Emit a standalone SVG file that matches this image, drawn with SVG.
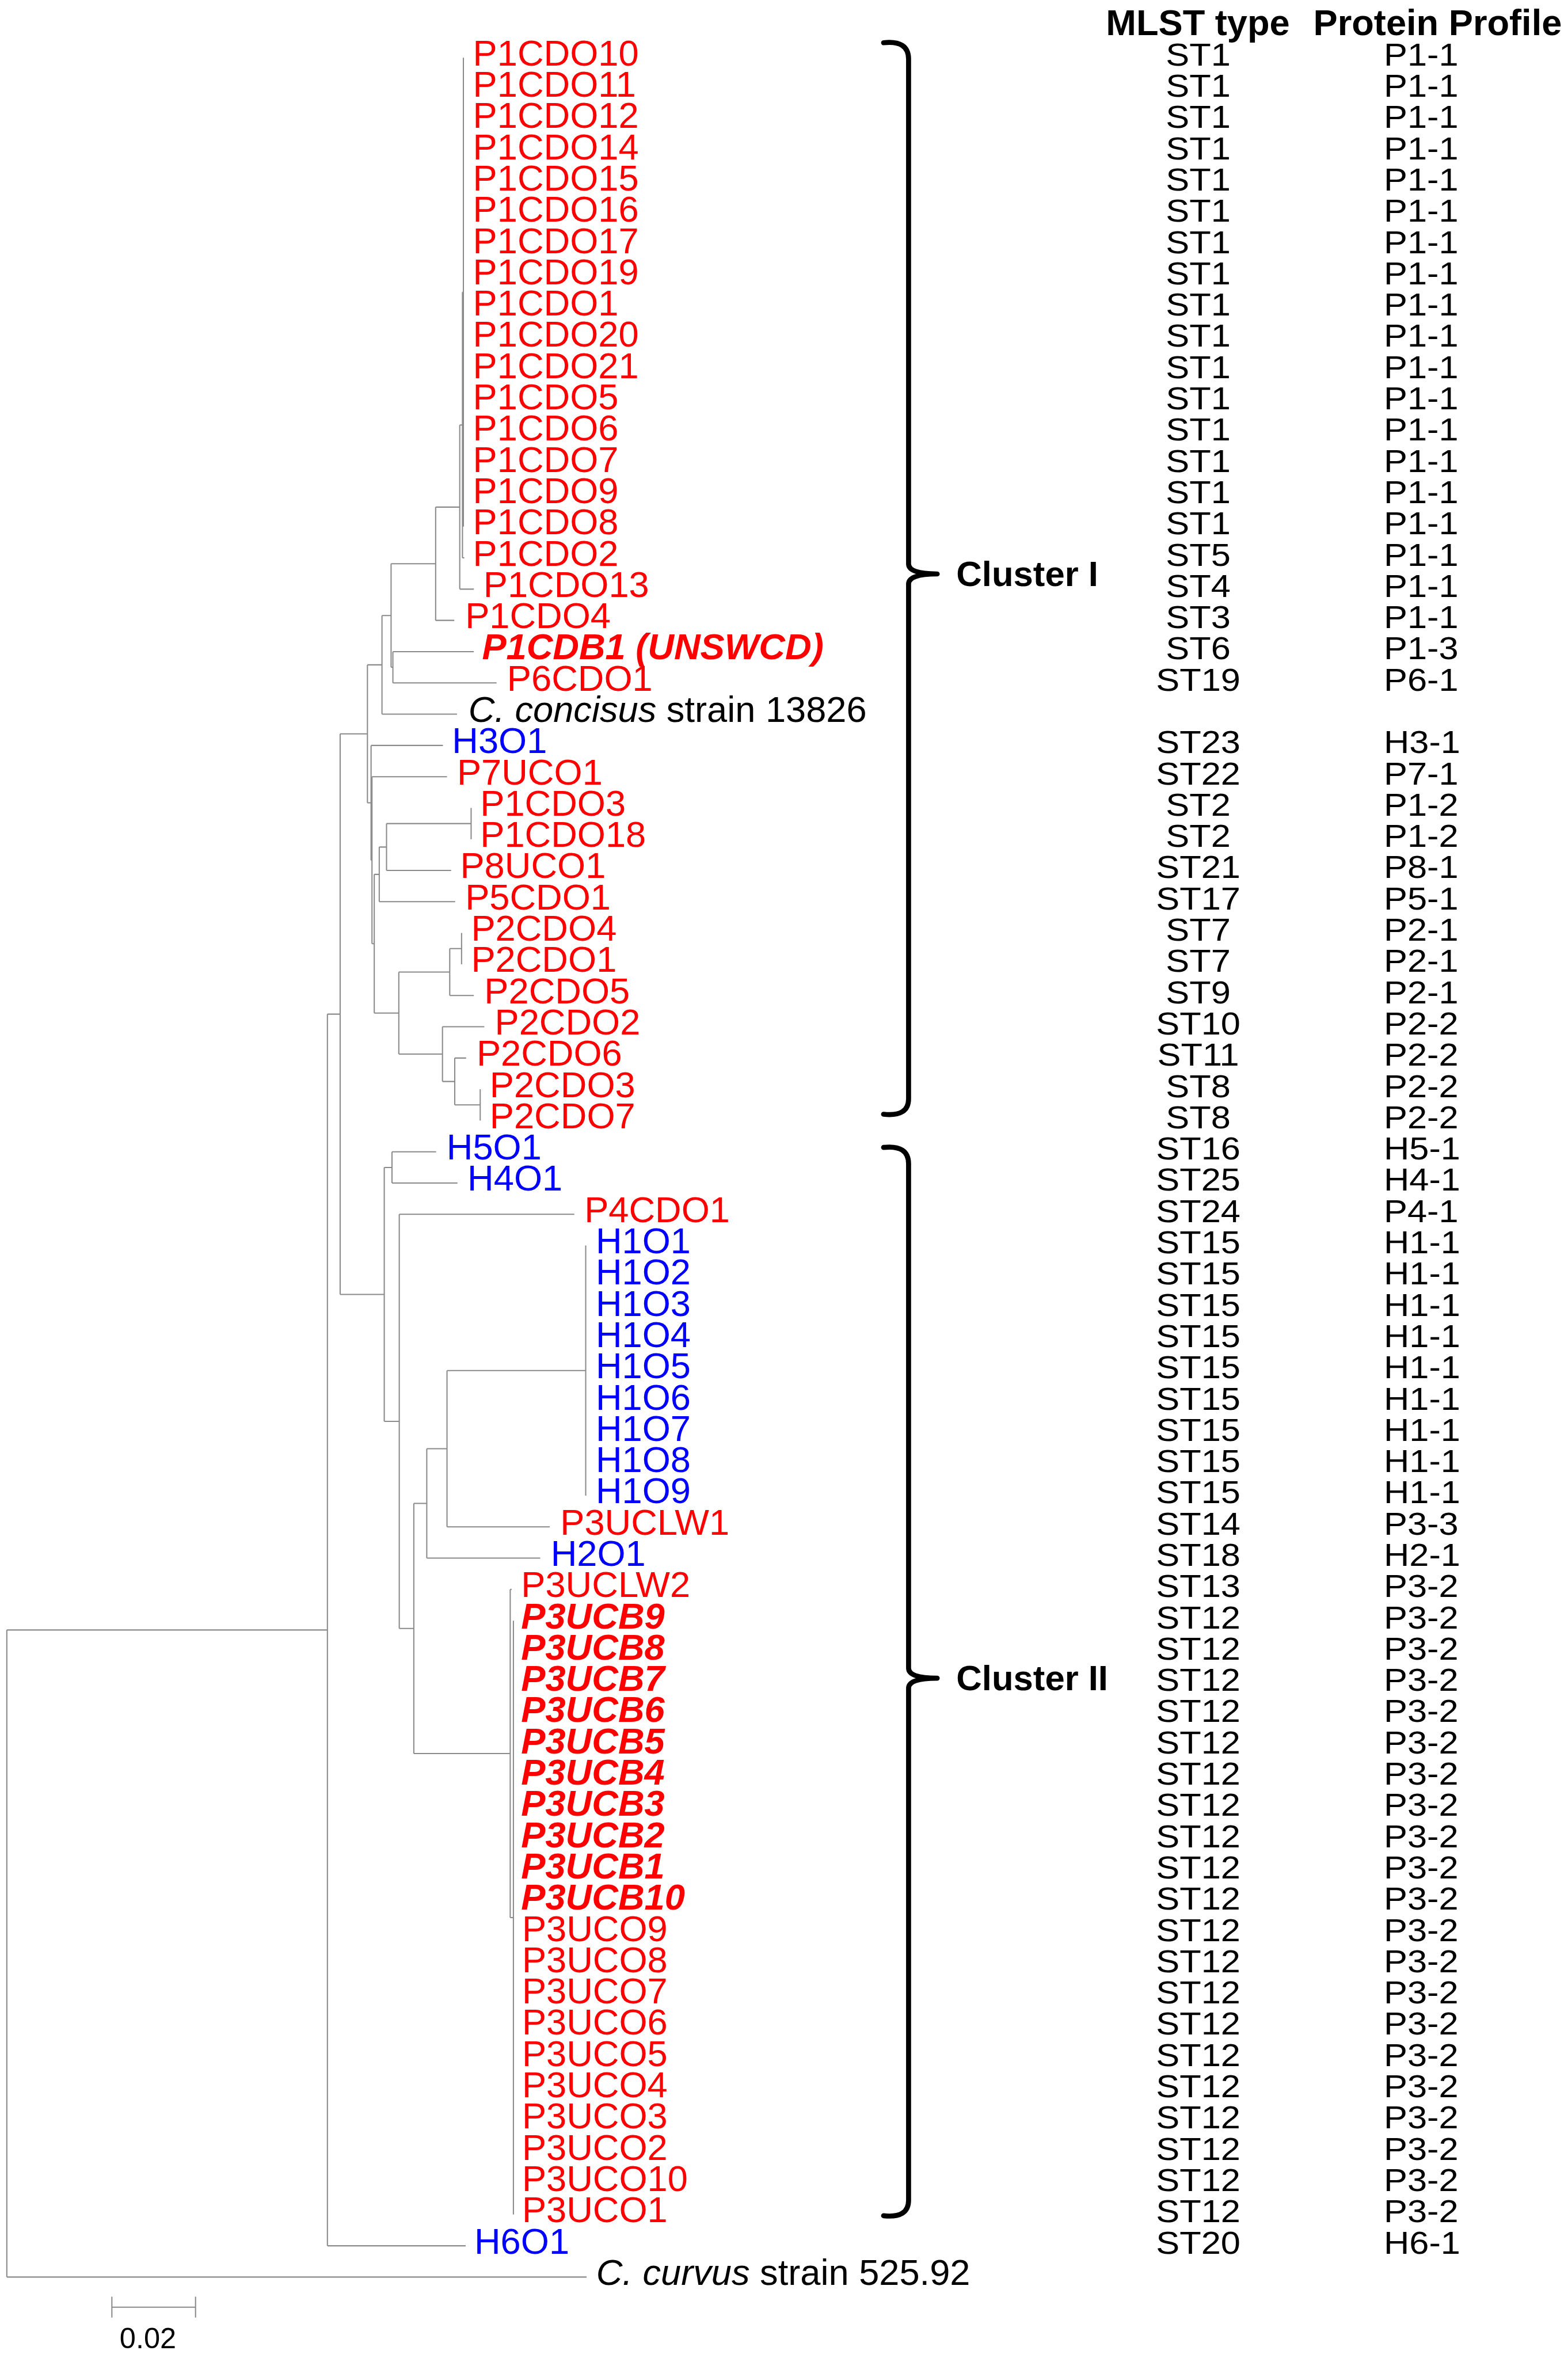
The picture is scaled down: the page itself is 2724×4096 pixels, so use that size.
<svg xmlns="http://www.w3.org/2000/svg" width="2724" height="4096" viewBox="0 0 2724 4096">
<style>
.br{fill:none;stroke:#8a8a8a;stroke-width:2.6}
.t{font-family:"Liberation Sans",Arial,sans-serif;font-size:80px}
.r{fill:#ff0000}.b{fill:#0000ff}.k{fill:#000}
.bi{font-weight:bold;font-style:italic}
.i{font-style:italic}
.col{font-family:"Liberation Sans",Arial,sans-serif;font-size:70px;fill:#000}
.hdr{font-family:"Liberation Sans",Arial,sans-serif;font-size:80px;font-weight:bold;fill:#000}
.brace{fill:none;stroke:#000;stroke-width:11;stroke-linecap:round;stroke-linejoin:round}
</style>
<rect width="2724" height="4096" fill="#fff"/>
<g transform="scale(0.79)">
<g id="connectors" class="br">
<path d="M15 3584V5006.8M15 3584H720M15 5006.8H1290"/>
<path d="M720 2229.9V4938.1M720 2229.9H748M720 4938.1H1024"/>
<path d="M748 1613.6V2846.2M748 1613.6H808M748 2846.2H845"/>
<path d="M808 1461.9V1765.3M808 1461.9H840M808 1765.3H816"/>
<path d="M840 1353.4V1570.3M840 1353.4H860M840 1570.3H1005"/>
<path d="M860 1239.6V1467.2M860 1239.6H958M860 1467.2H864"/>
<path d="M864 1432.9V1501.6M864 1432.9H1042M864 1501.6H1092"/>
<path d="M958 1115V1364.1M958 1115H1011M958 1364.1H999"/>
<path d="M1011 934.6V1295.4M1011 934.6H1017M1011 1295.4H1042"/>
<path d="M1017 642.5V1226.7M1017 642.5H1019M1017 1226.7H1021"/>
<path d="M1019 127V1158"/>
<path d="M816 1639.1V1891.5M816 1639.1H974M816 1891.5H818"/>
<path d="M818 1707.8V2075.1M818 1707.8H983M818 2075.1H823"/>
<path d="M823 1922.6V2227.6M823 1922.6H834M823 2227.6H877"/>
<path d="M834 1862.5V1982.7M834 1862.5H850M834 1982.7H1001"/>
<path d="M850 1810.9V1914M850 1810.9H1036M850 1914H992"/>
<path d="M1036 1776.5V1845.3"/>
<path d="M877 2137.4V2317.8M877 2137.4H989M877 2317.8H973"/>
<path d="M989 2085.8V2188.9M989 2085.8H1015M989 2188.9H1042"/>
<path d="M1015 2051.4V2120.2"/>
<path d="M973 2257.6V2378M973 2257.6H1065M973 2378H1000"/>
<path d="M1000 2326.4V2429.5M1000 2326.4H1025M1000 2429.5H1056"/>
<path d="M1056 2395.1V2463.8"/>
<path d="M845 2567V3125.4M845 2567H862M845 3125.4H878"/>
<path d="M862 2532.6V2601.3M862 2532.6H959M862 2601.3H1006"/>
<path d="M878 2670V3580.7M878 2670H1263M878 3580.7H910"/>
<path d="M910 3305.8V3855.6M910 3305.8H938.5M910 3855.6H1122"/>
<path d="M938.5 3185.5V3426M938.5 3185.5H983M938.5 3426H1188"/>
<path d="M983 3013.7V3357.3M983 3013.7H1288M983 3357.3H1209"/>
<path d="M1288 2738.7V3288.6"/>
<path d="M1122 3494.8V4216.5M1122 3494.8H1125M1122 4216.5H1129"/>
<path d="M1129 3563.5V4869.4"/>
<path d="M246 5073H430M246 5050V5096M430 5050V5096"/>
</g>
<g id="leaves" class="t">
<g id="n-P1CDO10"><text class="r" x="1040" y="144.0">P1CDO10</text></g>
<g id="n-P1CDO11"><text class="r" x="1040" y="212.7">P1CDO11</text></g>
<g id="n-P1CDO12"><text class="r" x="1040" y="281.5">P1CDO12</text></g>
<g id="n-P1CDO14"><text class="r" x="1040" y="350.2">P1CDO14</text></g>
<g id="n-P1CDO15"><text class="r" x="1040" y="418.9">P1CDO15</text></g>
<g id="n-P1CDO16"><text class="r" x="1040" y="487.7">P1CDO16</text></g>
<g id="n-P1CDO17"><text class="r" x="1040" y="556.4">P1CDO17</text></g>
<g id="n-P1CDO19"><text class="r" x="1040" y="625.1">P1CDO19</text></g>
<g id="n-P1CDO1"><text class="r" x="1040" y="693.8">P1CDO1</text></g>
<g id="n-P1CDO20"><text class="r" x="1040" y="762.6">P1CDO20</text></g>
<g id="n-P1CDO21"><text class="r" x="1040" y="831.3">P1CDO21</text></g>
<g id="n-P1CDO5"><text class="r" x="1040" y="900.0">P1CDO5</text></g>
<g id="n-P1CDO6"><text class="r" x="1040" y="968.8">P1CDO6</text></g>
<g id="n-P1CDO7"><text class="r" x="1040" y="1037.5">P1CDO7</text></g>
<g id="n-P1CDO9"><text class="r" x="1040" y="1106.2">P1CDO9</text></g>
<g id="n-P1CDO8"><text class="r" x="1040" y="1175.0">P1CDO8</text></g>
<g id="n-P1CDO2"><text class="r" x="1040" y="1243.7">P1CDO2</text></g>
<g id="n-P1CDO13"><text class="r" x="1063" y="1312.4">P1CDO13</text></g>
<g id="n-P1CDO4"><text class="r" x="1023" y="1381.1">P1CDO4</text></g>
<g id="n-P1CDB1"><text class="r bi" x="1060" y="1449.9">P1CDB1 (UNSWCD)</text></g>
<g id="n-P6CDO1"><text class="r" x="1115" y="1518.6">P6CDO1</text></g>
<g id="n-Cconcisus"><text class="k" x="1030" y="1587.3"><tspan class="i">C. concisus</tspan> strain 13826</text></g>
<g id="n-H3O1"><text class="b" x="994" y="1656.1">H3O1</text></g>
<g id="n-P7UCO1"><text class="r" x="1005" y="1724.8">P7UCO1</text></g>
<g id="n-P1CDO3"><text class="r" x="1056" y="1793.5">P1CDO3</text></g>
<g id="n-P1CDO18"><text class="r" x="1056" y="1862.3">P1CDO18</text></g>
<g id="n-P8UCO1"><text class="r" x="1012" y="1931.0">P8UCO1</text></g>
<g id="n-P5CDO1"><text class="r" x="1023" y="1999.7">P5CDO1</text></g>
<g id="n-P2CDO4"><text class="r" x="1036" y="2068.4">P2CDO4</text></g>
<g id="n-P2CDO1"><text class="r" x="1036" y="2137.2">P2CDO1</text></g>
<g id="n-P2CDO5"><text class="r" x="1065" y="2205.9">P2CDO5</text></g>
<g id="n-P2CDO2"><text class="r" x="1088" y="2274.6">P2CDO2</text></g>
<g id="n-P2CDO6"><text class="r" x="1048" y="2343.4">P2CDO6</text></g>
<g id="n-P2CDO3"><text class="r" x="1077" y="2412.1">P2CDO3</text></g>
<g id="n-P2CDO7"><text class="r" x="1077" y="2480.8">P2CDO7</text></g>
<g id="n-H5O1"><text class="b" x="982" y="2549.6">H5O1</text></g>
<g id="n-H4O1"><text class="b" x="1028" y="2618.3">H4O1</text></g>
<g id="n-P4CDO1"><text class="r" x="1285" y="2687.0">P4CDO1</text></g>
<g id="n-H1O1"><text class="b" x="1310" y="2755.7">H1O1</text></g>
<g id="n-H1O2"><text class="b" x="1310" y="2824.5">H1O2</text></g>
<g id="n-H1O3"><text class="b" x="1310" y="2893.2">H1O3</text></g>
<g id="n-H1O4"><text class="b" x="1310" y="2961.9">H1O4</text></g>
<g id="n-H1O5"><text class="b" x="1310" y="3030.7">H1O5</text></g>
<g id="n-H1O6"><text class="b" x="1310" y="3099.4">H1O6</text></g>
<g id="n-H1O7"><text class="b" x="1310" y="3168.1">H1O7</text></g>
<g id="n-H1O8"><text class="b" x="1310" y="3236.9">H1O8</text></g>
<g id="n-H1O9"><text class="b" x="1310" y="3305.6">H1O9</text></g>
<g id="n-P3UCLW1"><text class="r" x="1232" y="3374.3">P3UCLW1</text></g>
<g id="n-H2O1"><text class="b" x="1211" y="3443.0">H2O1</text></g>
<g id="n-P3UCLW2"><text class="r" x="1146" y="3511.8">P3UCLW2</text></g>
<g id="n-P3UCB9"><text class="r bi" x="1146" y="3580.5">P3UCB9</text></g>
<g id="n-P3UCB8"><text class="r bi" x="1146" y="3649.2">P3UCB8</text></g>
<g id="n-P3UCB7"><text class="r bi" x="1146" y="3718.0">P3UCB7</text></g>
<g id="n-P3UCB6"><text class="r bi" x="1146" y="3786.7">P3UCB6</text></g>
<g id="n-P3UCB5"><text class="r bi" x="1146" y="3855.4">P3UCB5</text></g>
<g id="n-P3UCB4"><text class="r bi" x="1146" y="3924.2">P3UCB4</text></g>
<g id="n-P3UCB3"><text class="r bi" x="1146" y="3992.9">P3UCB3</text></g>
<g id="n-P3UCB2"><text class="r bi" x="1146" y="4061.6">P3UCB2</text></g>
<g id="n-P3UCB1"><text class="r bi" x="1146" y="4130.3">P3UCB1</text></g>
<g id="n-P3UCB10"><text class="r bi" x="1146" y="4199.1">P3UCB10</text></g>
<g id="n-P3UCO9"><text class="r" x="1148" y="4267.8">P3UCO9</text></g>
<g id="n-P3UCO8"><text class="r" x="1148" y="4336.5">P3UCO8</text></g>
<g id="n-P3UCO7"><text class="r" x="1148" y="4405.3">P3UCO7</text></g>
<g id="n-P3UCO6"><text class="r" x="1148" y="4474.0">P3UCO6</text></g>
<g id="n-P3UCO5"><text class="r" x="1148" y="4542.7">P3UCO5</text></g>
<g id="n-P3UCO4"><text class="r" x="1148" y="4611.5">P3UCO4</text></g>
<g id="n-P3UCO3"><text class="r" x="1148" y="4680.2">P3UCO3</text></g>
<g id="n-P3UCO2"><text class="r" x="1148" y="4748.9">P3UCO2</text></g>
<g id="n-P3UCO10"><text class="r" x="1148" y="4817.6">P3UCO10</text></g>
<g id="n-P3UCO1"><text class="r" x="1148" y="4886.4">P3UCO1</text></g>
<g id="n-H6O1"><text class="b" x="1043" y="4955.1">H6O1</text></g>
<g id="n-Ccurvus"><text class="k" x="1311" y="5023.8"><tspan class="i">C. curvus</tspan> strain 525.92</text></g>
</g>
<g id="scale-label"><text class="t k" x="263" y="5163" style="font-size:64px">0.02</text></g>
<g id="clusters">
<path class="brace" d="M1943 94Q1998 88 1998 130V1240Q1998 1262 2061 1262Q1998 1262 1998 1284V2416Q1998 2456 1943 2450"/>
<text class="hdr" x="2103" y="1289" style="font-size:78px">Cluster I</text>
<path class="brace" d="M1943 2523Q1998 2517 1998 2559V3668Q1998 3690 2061 3690Q1998 3690 1998 3712V4838Q1998 4878 1943 4872"/>
<text class="hdr" x="2103" y="3716" style="font-size:78px">Cluster II</text>
</g>
<g id="headers">
<text class="hdr" x="2432" y="77">MLST type</text>
<text class="hdr" x="2888" y="77">Protein Profile</text>
</g>
<g id="mlst" class="col" transform="translate(2635 0) scale(1.11 1)" text-anchor="middle">
<text x="0" y="144.0">ST1</text><text x="0" y="212.7">ST1</text><text x="0" y="281.5">ST1</text><text x="0" y="350.2">ST1</text>
<text x="0" y="418.9">ST1</text><text x="0" y="487.7">ST1</text><text x="0" y="556.4">ST1</text><text x="0" y="625.1">ST1</text>
<text x="0" y="693.8">ST1</text><text x="0" y="762.6">ST1</text><text x="0" y="831.3">ST1</text><text x="0" y="900.0">ST1</text>
<text x="0" y="968.8">ST1</text><text x="0" y="1037.5">ST1</text><text x="0" y="1106.2">ST1</text><text x="0" y="1175.0">ST1</text>
<text x="0" y="1243.7">ST5</text><text x="0" y="1312.4">ST4</text><text x="0" y="1381.1">ST3</text><text x="0" y="1449.9">ST6</text>
<text x="0" y="1518.6">ST19</text>
<text x="0" y="1656.1">ST23</text><text x="0" y="1724.8">ST22</text><text x="0" y="1793.5">ST2</text><text x="0" y="1862.3">ST2</text>
<text x="0" y="1931.0">ST21</text><text x="0" y="1999.7">ST17</text><text x="0" y="2068.4">ST7</text><text x="0" y="2137.2">ST7</text>
<text x="0" y="2205.9">ST9</text><text x="0" y="2274.6">ST10</text><text x="0" y="2343.4">ST11</text><text x="0" y="2412.1">ST8</text>
<text x="0" y="2480.8">ST8</text><text x="0" y="2549.6">ST16</text><text x="0" y="2618.3">ST25</text><text x="0" y="2687.0">ST24</text>
<text x="0" y="2755.7">ST15</text><text x="0" y="2824.5">ST15</text><text x="0" y="2893.2">ST15</text><text x="0" y="2961.9">ST15</text>
<text x="0" y="3030.7">ST15</text><text x="0" y="3099.4">ST15</text><text x="0" y="3168.1">ST15</text><text x="0" y="3236.9">ST15</text>
<text x="0" y="3305.6">ST15</text><text x="0" y="3374.3">ST14</text><text x="0" y="3443.0">ST18</text><text x="0" y="3511.8">ST13</text>
<text x="0" y="3580.5">ST12</text><text x="0" y="3649.2">ST12</text><text x="0" y="3718.0">ST12</text><text x="0" y="3786.7">ST12</text>
<text x="0" y="3855.4">ST12</text><text x="0" y="3924.2">ST12</text><text x="0" y="3992.9">ST12</text><text x="0" y="4061.6">ST12</text>
<text x="0" y="4130.3">ST12</text><text x="0" y="4199.1">ST12</text><text x="0" y="4267.8">ST12</text><text x="0" y="4336.5">ST12</text>
<text x="0" y="4405.3">ST12</text><text x="0" y="4474.0">ST12</text><text x="0" y="4542.7">ST12</text><text x="0" y="4611.5">ST12</text>
<text x="0" y="4680.2">ST12</text><text x="0" y="4748.9">ST12</text><text x="0" y="4817.6">ST12</text><text x="0" y="4886.4">ST12</text>
<text x="0" y="4955.1">ST20</text>
</g>
<g id="profile" class="col" transform="translate(3043 0) scale(1.11 1)">
<text x="0" y="144.0">P1-1</text><text x="0" y="212.7">P1-1</text><text x="0" y="281.5">P1-1</text><text x="0" y="350.2">P1-1</text>
<text x="0" y="418.9">P1-1</text><text x="0" y="487.7">P1-1</text><text x="0" y="556.4">P1-1</text><text x="0" y="625.1">P1-1</text>
<text x="0" y="693.8">P1-1</text><text x="0" y="762.6">P1-1</text><text x="0" y="831.3">P1-1</text><text x="0" y="900.0">P1-1</text>
<text x="0" y="968.8">P1-1</text><text x="0" y="1037.5">P1-1</text><text x="0" y="1106.2">P1-1</text><text x="0" y="1175.0">P1-1</text>
<text x="0" y="1243.7">P1-1</text><text x="0" y="1312.4">P1-1</text><text x="0" y="1381.1">P1-1</text><text x="0" y="1449.9">P1-3</text>
<text x="0" y="1518.6">P6-1</text>
<text x="0" y="1656.1">H3-1</text><text x="0" y="1724.8">P7-1</text><text x="0" y="1793.5">P1-2</text><text x="0" y="1862.3">P1-2</text>
<text x="0" y="1931.0">P8-1</text><text x="0" y="1999.7">P5-1</text><text x="0" y="2068.4">P2-1</text><text x="0" y="2137.2">P2-1</text>
<text x="0" y="2205.9">P2-1</text><text x="0" y="2274.6">P2-2</text><text x="0" y="2343.4">P2-2</text><text x="0" y="2412.1">P2-2</text>
<text x="0" y="2480.8">P2-2</text><text x="0" y="2549.6">H5-1</text><text x="0" y="2618.3">H4-1</text><text x="0" y="2687.0">P4-1</text>
<text x="0" y="2755.7">H1-1</text><text x="0" y="2824.5">H1-1</text><text x="0" y="2893.2">H1-1</text><text x="0" y="2961.9">H1-1</text>
<text x="0" y="3030.7">H1-1</text><text x="0" y="3099.4">H1-1</text><text x="0" y="3168.1">H1-1</text><text x="0" y="3236.9">H1-1</text>
<text x="0" y="3305.6">H1-1</text><text x="0" y="3374.3">P3-3</text><text x="0" y="3443.0">H2-1</text><text x="0" y="3511.8">P3-2</text>
<text x="0" y="3580.5">P3-2</text><text x="0" y="3649.2">P3-2</text><text x="0" y="3718.0">P3-2</text><text x="0" y="3786.7">P3-2</text>
<text x="0" y="3855.4">P3-2</text><text x="0" y="3924.2">P3-2</text><text x="0" y="3992.9">P3-2</text><text x="0" y="4061.6">P3-2</text>
<text x="0" y="4130.3">P3-2</text><text x="0" y="4199.1">P3-2</text><text x="0" y="4267.8">P3-2</text><text x="0" y="4336.5">P3-2</text>
<text x="0" y="4405.3">P3-2</text><text x="0" y="4474.0">P3-2</text><text x="0" y="4542.7">P3-2</text><text x="0" y="4611.5">P3-2</text>
<text x="0" y="4680.2">P3-2</text><text x="0" y="4748.9">P3-2</text><text x="0" y="4817.6">P3-2</text><text x="0" y="4886.4">P3-2</text>
<text x="0" y="4955.1">H6-1</text>
</g>
</g>
</svg>
